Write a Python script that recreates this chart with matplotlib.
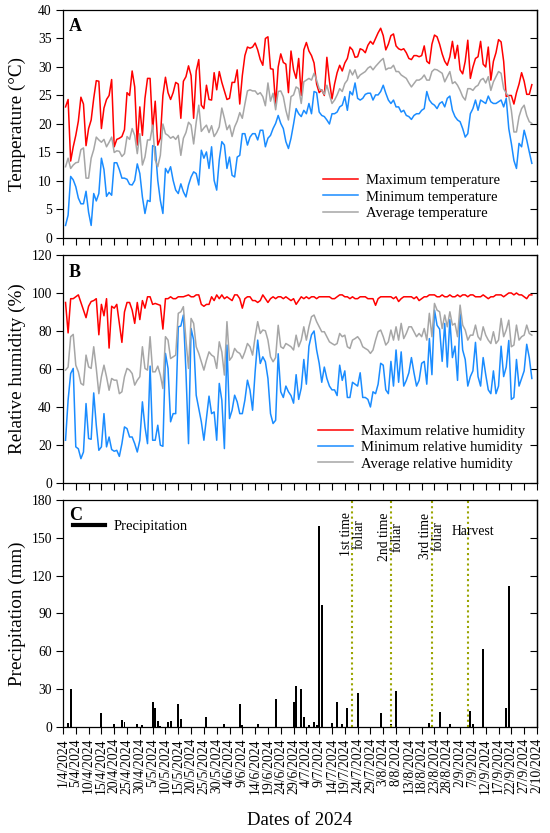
import numpy as np
import pandas as pd
import matplotlib
matplotlib.use("Agg")
import matplotlib.pyplot as plt
from matplotlib.lines import Line2D

plt.rcParams['font.family'] = ['Liberation Serif', 'DejaVu Serif']

# ---------------- data ----------------
start_date = "2024-04-01"   # first daily record
origin_date = "2024-03-31"  # axis origin (first tick)

t_max = [23, 24.3, 13.5, 16, 18, 20.5, 24.7, 23.5, 16.2, 19.2,
         20.7, 24.5, 27.6, 27.5, 19.2, 22.8, 24.3, 25, 27.8, 16,
         17.3, 17.5, 17.8, 19, 25.5, 25, 29.3, 26.5, 16.3, 23,
         18, 24.5, 28, 28, 19, 24, 16.3, 17.5, 25, 28.2,
         25.5, 24.3, 25.5, 27.3, 27, 21, 27.5, 28.3, 30.2, 28.5,
         21, 29.3, 31.3, 23.3, 22.7, 26.8, 24.3, 24.2, 29, 26,
         29.2, 27.3, 25.8, 24.3, 24.5, 27.3, 27.3, 29.5, 23.5, 28.5,
         32, 33.5, 33.3, 33.5, 34.2, 33, 31.3, 30.3, 35, 35.3,
         29.7, 29.6, 23.3, 30, 32.3, 30.8, 30.5, 25.5, 32.8, 29.5,
         28, 31.5, 25, 33, 34.3, 32.8, 32, 30.7, 27, 25.5,
         26, 25, 31.7, 27.5, 24.4, 27, 29, 30.3, 29.3, 30.7,
         31.5, 33.5, 33, 31.7, 31.8, 33.2, 33, 32.5, 33.8, 34.5,
         34, 35, 36, 36.8, 35.5, 33, 34, 35.5, 35.8, 33.7,
         33.2, 33, 33.2, 32.5, 31.5, 31.3, 32, 32, 31.8, 32,
         33.7, 31, 30.6, 34, 35.6, 35.3, 34, 32.3, 31, 30.3,
         31.8, 34.5, 31.5, 33.8, 29.5, 28.8, 31, 34.7, 28, 30,
         31.5, 31.8, 34.5, 30.5, 30, 33.5, 27.7, 31, 32.5, 34.8,
         34.4, 31, 24.8, 25, 25, 23.5, 25.5, 27, 29, 27.5,
         25.2, 25.2, 26.9]

t_min = [2.2, 4, 10.8, 10.2, 9, 7, 6, 6, 8.2, 4.5,
         2.2, 7.8, 6.5, 7.8, 14, 12, 7.3, 8, 7.5, 13.2,
         13.2, 12, 10.5, 10.5, 10.3, 9.4, 9.3, 10.1, 13, 11.3,
         7.2, 4.3, 6.6, 6.4, 16.2, 16, 10.1, 6.6, 4.3, 12.2,
         11.4, 12.5, 10.1, 8.4, 7.8, 9.5, 8.1, 7.2, 9.3, 10.7,
         11.6, 11.3, 9.3, 15.4, 14, 15.1, 12.2, 16, 10.1, 8.4,
         13.7, 16.9, 16.3, 12.2, 14.2, 11, 10.7, 14.2, 14.5, 18.3,
         18.3, 16.3, 17.7, 18.3, 18.3, 17.2, 18.9, 18.9, 16, 17.5,
         18, 19.2, 20.1, 21.5, 20.1, 19.2, 16.9, 15.7, 17.5, 20,
         22.7, 21.8, 21.3, 22.4, 21.8, 23.6, 21.8, 25.7, 25.5, 22.1,
         21.5, 21.3, 20.7, 20, 21.8, 21.8, 22.1, 23, 23.3, 24.8,
         22.4, 25.7, 25.1, 27.2, 24.5, 24.2, 24.5, 25.2, 25.4, 25.4,
         24.2, 25.1, 25.1, 25.7, 26.8, 25.4, 24.2, 23.6, 24.2, 23,
         23, 22.1, 22.4, 21.5, 21.3, 20.8, 21.5, 21.8, 21.8, 22.4,
         22.7, 25.7, 24.2, 23.6, 23.3, 22.7, 23.6, 23.9, 23, 24.5,
         24.9, 22.4, 21.3, 20.7, 20.4, 19.2, 17.7, 18.3, 21.8, 22.7,
         24.2, 22.4, 24.2, 23.9, 23.6, 24.9, 23.9, 23.6, 23.6, 23.9,
         24.2, 23, 24.5, 19.2, 16.6, 13.6, 12.2, 16.6, 16, 18.9,
         17.2, 15.1, 13.1]

t_avg = [12.5, 14, 12.2, 12.8, 13.2, 13.3, 15.5, 15.8, 10.5, 10.5,
         14, 15.5, 17.7, 17.2, 16.8, 17.3, 16, 16.8, 17.7, 15,
         15.3, 15.2, 14.3, 14.8, 17.8, 17.3, 19.2, 18, 14.8, 18.3,
         12.8, 14.2, 17.2, 17.2, 19.8, 13.7, 12.5, 14.5, 20, 18.3,
         18, 17.5, 17.8, 17.3, 18, 14.5, 17.5, 18.5, 20.3, 19.8,
         16.5, 20.3, 23.3, 18.7, 19.3, 19.8, 18.5, 19.7, 17.8, 18.5,
         19.5, 22.8, 21, 19, 19.8, 17.8, 19.5, 20.5, 22, 21,
         23.5, 25.8, 26, 25.8, 25.8, 25.2, 25.5, 24.8, 23.2, 27.2,
         24, 25.4, 22.5, 25.7, 25.8, 24.8, 22.4, 20.7, 24.8, 25.1,
         26.5, 26.2, 23.6, 27.4, 27.7, 28, 27.7, 28.9, 27.7, 26.2,
         25.9, 25.2, 26.8, 25.1, 23.6, 24.2, 25.1, 26.2, 25.7, 27.1,
         27.7, 29.5, 28.6, 29.5, 28, 28.6, 28.9, 29.2, 29.8, 30.1,
         29.5, 30.1, 30.6, 31.1, 31.5, 29.5, 29.8, 29.8, 30.3, 29.2,
         29.2, 28.6, 28.3, 28, 27.2, 26.5, 27.1, 27.7, 27.7, 28,
         28.6, 27.7, 27.7, 29.2, 29.6, 29.5, 29.2, 28.9, 27.4, 28.3,
         29.2, 27.1, 27.4, 26.8, 25.9, 24.8, 24.2, 26.2, 26.2, 25.9,
         26.5, 26.8, 27.7, 28, 27.2, 28.3, 25.9, 27.4, 28.3, 29.2,
         28.9, 26.2, 25.4, 24.8, 22.4, 18.6, 18.6, 21.3, 22.7, 23.3,
         21.5, 20.4, 20.1]

rh_max = [95, 79, 97, 97, 98, 99, 95, 91, 87, 93,
          95.5, 96, 97, 78, 94, 88, 97, 71, 93, 92,
          94, 84, 74, 90, 95, 95, 91, 84, 95, 86,
          96, 92, 98, 98, 94, 94.5, 94, 93.5, 81, 97,
          97, 98, 97, 97, 98, 98, 98, 98.5, 99, 98,
          98, 99, 99, 94, 93, 94, 94, 98, 96, 99,
          97, 99, 97, 98, 97, 96, 99, 99, 97, 92,
          97, 98, 98, 96, 96, 95, 96, 99, 97, 95,
          97, 98, 97, 98, 98, 97, 98, 97, 96, 97,
          94, 96, 98, 97, 98, 97, 98, 98, 97, 98,
          98, 98, 98, 98, 97, 97, 98, 99, 99, 98,
          98, 97, 98, 97, 97, 98, 98, 98, 97, 97,
          97, 93.5, 97, 98, 98, 98, 98, 98, 97, 98,
          95.5, 97, 98, 98, 98, 98, 97, 98, 96, 97,
          98, 98, 99, 99, 99, 98, 98, 99, 98, 98,
          99, 98, 98, 99, 98, 99, 99, 98, 99, 99,
          98, 98, 98, 99, 98, 97, 98, 98, 99, 99,
          99, 98, 99, 100, 100, 99, 100, 99, 99, 98,
          97, 99, 99]

rh_min = [22.5, 43.6, 57.6, 60.3, 19, 18, 12.8, 16.3, 41.8, 23.4,
          23, 47.4, 30.4, 17.2, 19, 36.5, 19, 24.2, 17.6, 16.7,
          17.2, 14, 20.7, 29.5, 28.6, 24.2, 24.2, 20.7, 16.3, 22.5,
          42.7, 29.5, 20.7, 61.5, 22.5, 22.5, 30.4, 19.9, 19.3, 68.2,
          60.3, 32.2, 36.5, 36.5, 82.2, 82.6, 88.4, 58.5, 20.7, 81.3,
          75.2, 46.2, 39.2, 32.2, 22.5, 33.9, 45.7, 36.5, 37.4, 22.5,
          52.4, 43.6, 18.1, 72.6, 33.9, 38.3, 46.2, 42.7, 36.5, 36.5,
          43.6, 54.1, 48.8, 38.3, 58.5, 75.2, 62.9, 66.4, 63.8, 55,
          36.5, 31.3, 33, 68, 48, 45, 51, 48, 46, 42,
          57, 44, 50, 65, 52, 72, 78, 80, 70, 63,
          53, 61, 55, 51, 49, 49, 46, 62, 54, 59,
          45, 45, 53, 52, 51, 58, 45, 45, 44, 40,
          48, 47, 52, 63, 62, 49, 47, 64, 51, 70,
          53, 69, 51, 54, 58, 66, 58, 51, 54, 63,
          64, 52, 76, 57, 91, 83, 81, 64, 84, 61,
          86, 66, 72, 54, 89, 70, 65, 51, 56, 59,
          74, 56, 51, 66, 57, 49, 47, 59, 47, 51,
          72, 56, 61, 75, 44, 45, 65, 51, 55, 59,
          73, 66, 55]

rh_avg = [59.4, 61, 77, 78.2, 62, 58.5, 52.4, 51.5, 67.3, 61.1,
          60.3, 71.7, 60.3, 47, 55.9, 62, 55.9, 48.8, 55, 54.1,
          54.1, 47, 48, 55.9, 60.3, 59.4, 57.6, 51.5, 54.1, 55.9,
          71.7, 60.3, 59.4, 77, 58.5, 58.5, 61.5, 56.8, 49.7, 77,
          75.2, 65.5, 66.4, 67.3, 89.3, 90.1, 92.8, 75.2, 60.3, 86.6,
          84, 71.7, 68.2, 63.8, 59.4, 64.6, 69, 67.3, 66.4, 60.3,
          74.3, 69, 56.8, 84.9, 64.6, 66.4, 70.8, 69, 68.2, 65.5,
          69, 73.4, 71.7, 67.3, 77, 84.9, 78.7, 80.5, 80.1, 75.2,
          66.4, 63.8, 66, 83, 71.7, 70.8, 73.4, 72.6, 71.7, 70,
          77.8, 71.7, 75.2, 82.2, 75.2, 82.2, 87.5, 88.4, 84.9, 82.2,
          79.6, 79.6, 77, 74.3, 73.4, 72.6, 73.4, 78.7, 77, 77.8,
          71.7, 70.8, 75.2, 76, 77, 75.2, 71.7, 70.8, 70, 68.2,
          70, 75.2, 79.6, 80.5, 77, 72.6, 74.3, 80.5, 75.2, 82.2,
          75.2, 84, 76, 78.7, 82.2, 82.2, 79.6, 77, 78.7, 77,
          81.3, 75.2, 89.3, 77, 94.5, 91, 90.1, 81.3, 88.4, 82.2,
          90.1, 83.1, 84, 77, 93.6, 83.1, 80.5, 75.2, 77.8, 77.8,
          83.1, 77, 75.2, 82.2, 77.8, 75.2, 73.4, 79.6, 73.4, 75.2,
          86.6, 77, 80.5, 85.7, 71.7, 72.6, 83.1, 75.2, 77, 77.8,
          83.1, 78.7, 77.8]

rain_dates = ["2024-04-02", "2024-04-03", "2024-04-15", "2024-04-20", "2024-04-23",
              "2024-04-24", "2024-04-29", "2024-05-01", "2024-05-05", "2024-05-06",
              "2024-05-07", "2024-05-08", "2024-05-11", "2024-05-12", "2024-05-15",
              "2024-05-16", "2024-05-26", "2024-06-02", "2024-06-08", "2024-06-09",
              "2024-06-15", "2024-06-22", "2024-06-29", "2024-06-30", "2024-07-02",
              "2024-07-03", "2024-07-05", "2024-07-07", "2024-07-08", "2024-07-09",
              "2024-07-10", "2024-07-14", "2024-07-16", "2024-07-18", "2024-07-20",
              "2024-07-24", "2024-08-02", "2024-08-06", "2024-08-08", "2024-08-21",
              "2024-08-25", "2024-08-29", "2024-09-06", "2024-09-07", "2024-09-11",
              "2024-09-20", "2024-09-21"]
rain_mm = [3, 30, 11.4, 2, 5.5,
           4, 2, 1.5, 20, 14.8,
           5, 1, 4, 4.5, 18,
           6.5, 8, 2, 18, 1.5,
           2.5, 22, 20, 32.5, 30.4,
           8, 1.5, 3.7, 1.5, 159,
           96.5, 3, 19.8, 2.5, 14.8,
           27.2, 10.8, 2, 28.3, 3,
           11.6, 2, 12.7, 2, 61.6,
           15.3, 112]

event_dates = ["2024-07-22", "2024-08-06", "2024-08-22", "2024-09-05"]
event_labels = ["1st time\nfoliar", "2nd time\nfoliar", "3rd time\nfoliar", "Harvest"]

tick_labels = ["1/4/2024", "5/4/2024", "10/4/2024", "15/4/2024", "20/4/2024", "25/4/2024",
               "30/4/2024", "5/5/2024", "10/5/2024", "15/5/2024", "20/5/2024", "25/5/2024",
               "30/5/2024", "4/6/2024", "9/6/2024", "14/6/2024", "19/6/2024", "24/6/2024",
               "29/6/2024", "4/7/2024", "9/7/2024", "14/7/2024", "19/7/2024", "24/7/2024",
               "29/7/2024", "3/8/2024", "8/8/2024", "13/8/2024", "18/8/2024", "23/8/2024",
               "28/8/2024", "2/9/2024", "7/9/2024", "12/9/2024", "17/9/2024", "22/9/2024",
               "27/9/2024", "2/10/2024"]

# ---------------- helpers ----------------
origin = pd.Timestamp(origin_date)


def day_pos(dates):
    return np.asarray((pd.to_datetime(dates) - origin).days, dtype=float)


def series_x(values):
    return day_pos(pd.date_range(start_date, periods=len(values), freq="D"))


RED = "#ff0000"
BLUE = "#1a8cff"
GRAY = "#a6a6a6"
OLIVE = "#9aa400"
LW = 1.1

fig = plt.figure(figsize=(5.5, 8.33), dpi=100)
axA = fig.add_axes([0.1145, 0.7143, 0.8618, 0.2737])
axB = fig.add_axes([0.1145, 0.4202, 0.8618, 0.2737])
axC = fig.add_axes([0.1145, 0.1273, 0.8618, 0.2725])

xticks = np.arange(0, 5 * len(tick_labels), 5)


def style(ax, ymax, ystep, show_x=False):
    ax.set_xlim(0, xticks[-1])
    ax.set_ylim(0, ymax)
    yt = np.arange(0, ymax + 0.1, ystep)
    ax.set_yticks(yt)
    ax.set_xticks(xticks)
    ax.tick_params(axis="both", direction="out", length=5, width=0.8,
                   labelsize=9.8, top=False, right=False, pad=3)
    for s in ax.spines.values():
        s.set_linewidth(0.9)
    sec = ax.secondary_yaxis("right")
    sec.set_yticks(yt)
    sec.tick_params(direction="in", length=5, width=0.8, labelright=False)
    sec.spines["right"].set_linewidth(0.9)
    if show_x:
        ax.set_xticklabels(tick_labels, rotation=90, fontsize=9.8)
    else:
        ax.tick_params(axis="x", labelbottom=False)
    ax.yaxis.set_label_coords(-0.078, 0.5)


# Panel A
axA.plot(series_x(t_max), t_max, color=RED, lw=LW, label="Maximum temperature")
axA.plot(series_x(t_min), t_min, color=BLUE, lw=LW, label="Minimum temperature")
axA.plot(series_x(t_avg), t_avg, color=GRAY, lw=LW, label="Average temperature")
style(axA, 40, 5)
axA.set_ylabel("Temperature (°C)", fontsize=13.8)
axA.legend(loc="center left", bbox_to_anchor=(0.549, 0.18), frameon=False, fontsize=10.5,
           handlelength=2.4, handletextpad=0.55, labelspacing=0.2, borderpad=0, borderaxespad=0)
axA.text(0.012, 0.965, "A", transform=axA.transAxes, fontsize=13, fontweight="bold", va="top", ha="left")

# Panel B
axB.plot(series_x(rh_max), rh_max, color=RED, lw=LW, label="Maximum relative humidity")
axB.plot(series_x(rh_min), rh_min, color=BLUE, lw=LW, label="Minimum relative humidity")
axB.plot(series_x(rh_avg), rh_avg, color=GRAY, lw=LW, label="Average relative humidity")
style(axB, 120, 20)
axB.set_ylabel("Relative humidity (%)", fontsize=13.8)
axB.legend(loc="center left", bbox_to_anchor=(0.538, 0.154), frameon=False, fontsize=10.5,
           handlelength=2.4, handletextpad=0.55, labelspacing=0.2, borderpad=0, borderaxespad=0)
axB.text(0.012, 0.96, "B", transform=axB.transAxes, fontsize=13, fontweight="bold", va="top", ha="left")

# Panel C
axC.bar(day_pos(rain_dates), rain_mm, width=0.75, color="black")
style(axC, 180, 30, show_x=True)
axC.set_ylabel("Precipitation (mm)", fontsize=13.8)
h = [Line2D([0], [0], color="black", lw=3)]
axC.legend(h, ["Precipitation"], loc="center left", bbox_to_anchor=(0.021, 0.885), frameon=False,
           fontsize=10.5, handlelength=2.2, handletextpad=0.6, borderpad=0, borderaxespad=0)
axC.text(0.012, 0.969, "C", transform=axC.transAxes, fontsize=13, fontweight="bold", va="top", ha="left")

ev_x = day_pos(event_dates)
for xe, lab in zip(ev_x, event_labels):
    axC.axvline(xe, color=OLIVE, lw=1.5, ls=(0, (1, 1.5)))
    if lab == "Harvest":
        axC.text(xe + 2.2, 155, lab, fontsize=9.8, ha="center", va="center")
    else:
        axC.text(xe, 170, lab, fontsize=9.8, rotation=90, ha="center", va="top",
                 multialignment="center", linespacing=0.95)

fig.text(0.545, 0.0096, "Dates of 2024", fontsize=13.5, ha="center", va="baseline")

fig.savefig("out.png", dpi=100)
